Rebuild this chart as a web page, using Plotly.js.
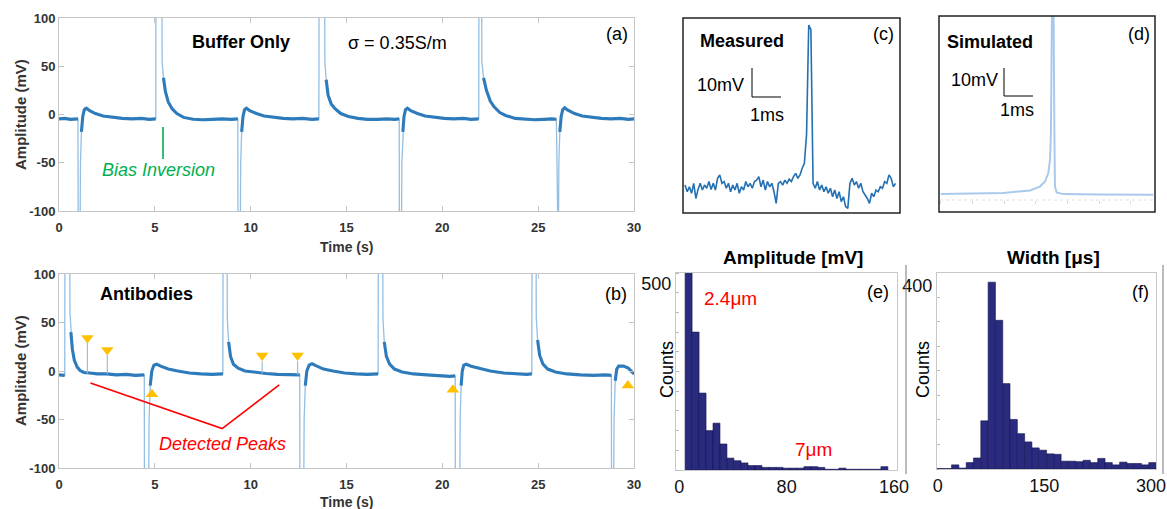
<!DOCTYPE html>
<html>
<head>
<meta charset="utf-8">
<script src="https://cdn.plot.ly/plotly-3.0.1.min.js"></script>
<style>html,body{margin:0;padding:0;background:#fff;}#chart{width:1167px;height:509px;}</style>
</head>
<body>
<div id="chart"></div>
<script>
// ---------- Data ----------
// (a) Buffer only: time (s) and amplitude (mV)
const timeA = [0,0.3,0.6,0.99,1.0,1.09,1.12,1.17,1.24,1.32,1.42,1.6,1.9,2.3,2.8,3.3,3.8,4.3,4.7,5.05,
  5.06,5.37,5.38,5.45,5.55,5.7,5.9,6.15,6.5,7.0,7.5,8.0,8.5,9.0,9.33,
  9.34,9.45,9.48,9.53,9.6,9.68,9.78,9.95,10.3,10.7,11.2,11.7,12.2,12.7,13.2,13.56,
  13.57,13.86,13.87,13.94,14.04,14.2,14.4,14.7,15.1,15.6,16.1,16.6,17.1,17.5,17.75,
  17.76,17.86,17.89,17.94,18.0,18.08,18.18,18.35,18.7,19.1,19.6,20.1,20.6,21.1,21.5,21.9,
  21.91,22.05,22.06,22.15,22.3,22.5,22.7,23.0,23.3,23.8,24.3,24.8,25.3,25.7,25.95,
  25.96,26.05,26.08,26.13,26.2,26.28,26.38,26.55,26.9,27.3,27.8,28.3,28.8,29.3,29.7,30];
const ampA = [-4.5,-4,-5,-4.5,-150,-150,-50,-18,-2,5,6.5,4,1,-1.5,-3,-4,-4.5,-4,-5,-4.5,
  150,150,55,38,24,13,6,1,-3,-5,-5.5,-5,-4.5,-5,-4.5,
  -150,-150,-50,-18,-2,5,6.5,4,1,-1.5,-3,-4,-4.5,-4,-5,-4.5,
  150,150,55,36,20,11,6,1,-2,-4,-5,-5,-4.5,-5,-4.5,
  -150,-150,-50,-18,-2,5,6.5,4,1,-1.5,-3,-4,-4.5,-4,-5,-4.5,
  150,150,55,38,25,14,8,2,-1,-4,-5,-5.5,-5,-4.5,-5,
  -150,-150,-50,-18,-2,5,7,4.5,1,-1.5,-3,-4,-4.5,-4,-5,-4.5];

// (b) Antibodies: time (s) and amplitude (mV)
const timeB = [0,0.3,0.31,0.56,0.57,0.62,0.7,0.8,0.95,1.1,1.3,1.6,2.0,2.5,3.0,3.5,4.0,4.45,
  4.46,4.67,4.70,4.76,4.84,4.95,5.1,5.3,5.7,6.2,6.8,7.4,8.0,8.55,
  8.56,8.77,8.78,8.85,8.95,9.1,9.35,9.7,10.2,10.8,11.4,12.0,12.5,12.56,
  12.57,12.76,12.79,12.85,12.93,13.05,13.2,13.4,13.8,14.3,14.9,15.5,16.1,16.65,
  16.66,16.89,16.9,16.97,17.08,17.25,17.5,17.9,18.5,19.2,19.9,20.4,20.67,
  20.68,20.9,20.93,20.98,21.04,21.12,21.25,21.5,21.9,22.5,23.2,23.9,24.4,24.67,
  24.68,24.89,24.9,24.97,25.08,25.25,25.5,25.9,26.5,27.2,27.9,28.5,28.82,
  28.83,28.93,28.96,29.02,29.1,29.2,29.45,29.7,29.9,30];
const ampB = [-4,-4.5,150,150,60,40,22,11,4,0.5,-1.5,-2,-3,-3,-4,-3.5,-4.5,-4,
  -150,-150,-50,-15,0,6,7,5,2,0,-2,-3,-3.5,-3,
  150,150,55,30,15,7,3,0,-1.5,-2.5,-3.5,-4,-4.5,-4,
  -150,-150,-50,-15,0,6,7.5,5.5,2,0,-2,-3,-3.5,-3,
  150,150,55,30,15,7,2,-1,-3,-4,-5,-5.5,-5,
  -150,-150,-50,-15,0,6,7,5,3,0,-2,-3,-3.5,-3,
  150,150,55,32,16,7,2,-1,-3,-4,-4.5,-4,-4.5,
  -150,-150,-50,-10,2,5,5,3,-1,-3];

// (b) detected small peaks
const peakTimesB = [1.48, 2.52, 10.6, 12.45];
const peakBaseB  = [-2.5, -3, -2.5, -4];
const peakTopB   = [29, 17, 10, 10];
const markDownY  = [34, 21.6, 16, 16];
const markUpT    = [4.85, 20.55, 29.68];
const markUpY    = [-24, -19.4, -15];
// callout for "Detected Peaks"
const calloutT = [1.64, 8.51, 11.49];
const calloutY = [-12.3, -59.4, -14.4];

// (c) measured single event (mV), uniformly sampled
const ampC = [1.6,-0.7,1.0,-1.2,2.2,-3.0,0.1,2.2,-0.1,1.6,
  0.5,2.8,0.1,2.2,-0.1,3.9,5.1,2.2,2.8,0.5,
  2.2,-0.7,1.6,-0.1,2.2,-1.2,1.0,-0.1,2.8,1.0,
  2.2,0.5,2.8,3.3,4.5,1.0,3.3,-0.1,2.8,1.0,
  2.2,-0.7,-4.7,2.2,2.8,1.6,3.3,2.2,3.6,2.8,
  4.5,5.6,3.9,5.1,7.4,9.1,19,56.6,55,2.2,
  0.5,2.8,-0.1,1.6,-0.7,1.0,-1.2,0.5,-2.4,-0.1,
  -3.0,-0.7,-4.1,-2.4,-5.8,-6.4,2.2,3.9,1.6,2.8,
  0.5,2.2,-0.7,-1.8,-3.0,-4.7,-1.2,-2.4,-0.1,-0.7,
  1.0,0.5,2.8,2.2,5.1,3.9,1.0,2.2];

// (d) simulated event: time (ms), amplitude (mV)
const timeD = [0.06,1.2,2.22,3.14,3.48,3.66,3.77,3.83,3.86,3.90,3.95,3.98,4.0,4.06,4.29,5.5,7.39];
const ampD  = [0.3,0.45,0.7,1.6,3.0,4.8,7.8,12.6,22.2,70,70,22,3,0.9,0.3,0.15,0.07];

// (e) amplitude histogram
const binsE = [6.9,12.1,17.3,22.5,27.7,32.9,38.1,43.4,48.6,53.8,59.0,64.2,69.4,74.7,79.9,85.1,90.3,95.5,100.7,105.9,111.2,116.4,121.6,126.8,132.0,137.2,142.4,147.7,152.9];
const countsE = [600,371,207,106,126,70,32,25,19,12,12,7,7,7,5,5,5,9,9,7,2,2,5,2,2,2,2,2,9];

// (f) width histogram
const binsF = [4.2,14.5,24.7,35.0,45.3,55.5,65.8,76.1,86.4,96.6,106.9,117.2,127.4,137.7,148.0,158.3,168.5,178.8,189.1,199.3,209.6,219.9,230.2,240.4,250.7,261.0,271.2,281.5,291.8,302.0];
const countsF = [1,1,9,2,14,24,105,407,324,186,108,77,59,46,41,33,32,17,17,16,19,14,23,14,9,15,12,12,9,14];

// tick labels
const timeTicks = [0,5,10,15,20,25,30];
const ampTicks = [-100,-50,0,50,100];
const ampTickText = ['-100','-50','0','50','100'];

// ---------- Layout helpers ----------
const W = 1167, H = 509;
const FONT = 'Liberation Sans, Arial, Helvetica, sans-serif';
const domX = (a, b) => [a / W, b / W];
const domY = (top, bottom) => [1 - bottom / H, 1 - top / H];
const px = v => v / W, py = v => 1 - v / H;

function ann(text, x, y, size, color, extra) {
  return Object.assign({text: text, x: px(x), y: py(y), xref: 'paper', yref: 'paper',
    xanchor: 'center', yanchor: 'middle', showarrow: false,
    font: {family: FONT, size: size, color: color || '#000'}}, extra || {});
}
function pline(x0, y0, x1, y1, color, width, dash) {
  return {type: 'line', xref: 'paper', yref: 'paper', x0: px(x0), y0: py(y0), x1: px(x1), y1: py(y1),
    line: {color: color, width: width, dash: dash || 'solid'}};
}
function prect(x0, y0, x1, y1, color, width) {
  return {type: 'rect', xref: 'paper', yref: 'paper', x0: px(x0), y0: py(y0), x1: px(x1), y1: py(y1),
    line: {color: color, width: width}, fillcolor: 'rgba(0,0,0,0)'};
}

const thick = arr => arr.map(v => (v > -35 && v < 45) ? v : null);

const spikeX = [], spikeY = [];
peakTimesB.forEach((t, i) => { spikeX.push(t, t, null); spikeY.push(peakBaseB[i], peakTopB[i], null); });

const THIN = '#93bfe3', THICK = '#2e7bbc';
const traces = [
  // (a)
  {x: timeA, y: ampA, xaxis: 'x', yaxis: 'y', mode: 'lines', line: {color: THIN, width: 1.3}},
  {x: timeA, y: thick(ampA), xaxis: 'x', yaxis: 'y', mode: 'lines', line: {color: THICK, width: 3.1}, connectgaps: false},
  // (b)
  {x: timeB, y: ampB, xaxis: 'x2', yaxis: 'y2', mode: 'lines', line: {color: THIN, width: 1.3}},
  {x: timeB, y: thick(ampB), xaxis: 'x2', yaxis: 'y2', mode: 'lines', line: {color: THICK, width: 3.1}, connectgaps: false},
  {x: spikeX, y: spikeY, xaxis: 'x2', yaxis: 'y2', mode: 'lines', line: {color: '#9ab8d2', width: 1.1}},
  {x: calloutT, y: calloutY, xaxis: 'x2', yaxis: 'y2', mode: 'lines', line: {color: '#ff0000', width: 1.6}},
  {x: peakTimesB, y: markDownY, xaxis: 'x2', yaxis: 'y2', mode: 'markers', cliponaxis: false,
    marker: {symbol: 'triangle-down', size: 11, color: '#ffc000'}},
  {x: markUpT, y: markUpY, xaxis: 'x2', yaxis: 'y2', mode: 'markers', cliponaxis: false,
    marker: {symbol: 'triangle-up', size: 11, color: '#ffc000'}},
  // (c)
  {y: ampC, x0: 0.07, dx: 0.075, xaxis: 'x3', yaxis: 'y3', mode: 'lines', line: {color: '#2370b2', width: 1.6}},
  // (d)
  {x: timeD, y: ampD, xaxis: 'x4', yaxis: 'y4', mode: 'lines', line: {color: '#a9c9ec', width: 2}},
  // (e)
  {type: 'bar', x: binsE, y: countsE, width: 5.2, xaxis: 'x5', yaxis: 'y5',
    marker: {color: '#2a2a7e', line: {color: '#161650', width: 0.6}}},
  // (f)
  {type: 'bar', x: binsF, y: countsF, width: 10.27, xaxis: 'x6', yaxis: 'y6',
    marker: {color: '#2a2a7e', line: {color: '#161650', width: 0.6}}}
];

const GRAY = '#c4c4c4';
const tsAxisX = (dom, anchor) => ({domain: dom, anchor: anchor, range: [0, 30], tickvals: timeTicks,
  ticks: 'inside', ticklen: 5, tickcolor: GRAY, showline: true, linecolor: GRAY, linewidth: 1,
  mirror: 'ticks', showgrid: false, zeroline: false, ticklabelstandoff: 4,
  tickfont: {family: FONT, size: 13, color: '#333', weight: 'bold'}});
const tsAxisY = (dom, anchor) => ({domain: dom, anchor: anchor, range: [-100, 100], tickvals: ampTicks,
  ticktext: ampTickText, ticks: 'inside', ticklen: 5, tickcolor: GRAY, showline: true, linecolor: GRAY,
  linewidth: 1, mirror: 'ticks', showgrid: false, zeroline: false,
  tickfont: {family: FONT, size: 13, color: '#333', weight: 'bold'}});
const hidden = (dom, anchor, range) => ({domain: dom, anchor: anchor, range: range, visible: false, fixedrange: true});
const HG = '#c8c8c8';

const layout = {
  width: W, height: H, margin: {l: 0, r: 0, t: 0, b: 0}, showlegend: false,
  paper_bgcolor: '#fff', plot_bgcolor: 'rgba(0,0,0,0)', bargap: 0,
  xaxis: tsAxisX(domX(59, 634), 'y'),
  yaxis: tsAxisY(domY(18, 211), 'x'),
  xaxis2: tsAxisX(domX(59, 634), 'y2'),
  yaxis2: tsAxisY(domY(274, 468), 'x2'),
  xaxis3: hidden(domX(683, 900), 'y3', [0, 7.5]),
  yaxis3: hidden(domY(18, 213), 'x3', [-8, 59]),
  xaxis4: {domain: domX(939, 1155), anchor: 'y4', range: [0, 7.45], showgrid: false, zeroline: false,
    showline: false, ticks: 'outside', ticklen: 3, tickcolor: '#d6d6d6', showticklabels: false,
    tick0: 0.06, dtick: 1.093},
  yaxis4: hidden(domY(16, 200), 'x4', [-1.8, 63.9]),
  xaxis5: {domain: domX(676, 897), anchor: 'y5', range: [-2.5, 162.3], tickvals: [0, 80, 160],
    ticks: '', showline: true, linecolor: HG, mirror: true, showgrid: false, zeroline: false,
    tickfont: {family: FONT, size: 18, color: '#111'}},
  yaxis5: {domain: domY(273, 470), anchor: 'x5', range: [0, 530], tickvals: [500], ticks: '',
    showline: true, linecolor: HG, mirror: true, showgrid: false, zeroline: false,
    minor: {dtick: 53, tick0: 0, ticks: 'inside', ticklen: 3, tickcolor: '#b8b8b8'},
    tickfont: {family: FONT, size: 18, color: '#111'}},
  xaxis6: {domain: domX(937, 1156), anchor: 'y6', range: [-0.9, 307], tickvals: [0, 150, 300],
    ticks: '', showline: true, linecolor: HG, mirror: true, showgrid: false, zeroline: false,
    tickfont: {family: FONT, size: 18, color: '#111'}},
  yaxis6: {domain: domY(273, 469), anchor: 'x6', range: [0, 427], tickvals: [400], ticks: '',
    showline: true, linecolor: HG, mirror: true, showgrid: false, zeroline: false,
    minor: {dtick: 53.4, tick0: 0, ticks: 'inside', ticklen: 3, tickcolor: '#b8b8b8'},
    tickfont: {family: FONT, size: 18, color: '#111'}},
  shapes: [
    prect(683, 18, 900, 213, '#222', 1.5),
    prect(939, 16, 1155, 212, '#222', 1.5),
    pline(940, 200, 1154, 200, '#e0e0e0', 1, 'dot'),
    pline(752, 68, 752, 97, '#000', 1), pline(752, 97, 781, 97, '#000', 1),
    pline(1004, 68, 1004, 96, '#000', 1), pline(1004, 96, 1033, 96, '#000', 1),
    pline(163, 127, 163, 159, '#00b050', 1.6),
    pline(906, 265, 906, 474, '#777', 1),
    pline(1163, 265, 1163, 474, '#777', 1)
  ],
  annotations: [
    ann('<b>Buffer Only</b>', 241, 42, 18),
    ann('σ = 0.35S/m', 397, 43, 18),
    ann('(a)', 617, 34, 18),
    ann('<i>Bias Inversion</i>', 159, 170, 18, '#00b050'),
    ann('<b>Amplitude (mV)</b>', 20, 115, 15, '#333', {textangle: -90}),
    ann('<b>Time (s)</b>', 346, 247, 14, '#333'),
    ann('<b>Antibodies</b>', 146, 294, 18),
    ann('(b)', 616, 294, 18),
    ann('<b>Amplitude (mV)</b>', 20, 371, 15, '#333', {textangle: -90}),
    ann('<b>Time (s)</b>', 346, 502, 14, '#333'),
    ann('<i>Detected Peaks</i>', 222, 444, 18, '#ff0000'),
    ann('<b>Measured</b>', 742, 41, 18),
    ann('(c)', 883, 34, 18),
    ann('10mV', 720, 85, 18),
    ann('1ms', 767, 115, 18),
    ann('<b>Simulated</b>', 990, 42, 18),
    ann('(d)', 1139, 34, 18),
    ann('10mV', 974, 80, 18),
    ann('1ms', 1017, 110, 18),
    ann('<b>Amplitude [mV]</b>', 793, 257, 19),
    ann('<b>Width [μs]</b>', 1053, 257, 19),
    ann('Counts', 667, 370, 18, '#000', {textangle: -90}),
    ann('Counts', 923, 370, 18, '#000', {textangle: -90}),
    ann('2.4μm', 730, 298, 19, '#ff0000'),
    ann('7μm', 813, 449, 19, '#ff0000'),
    ann('(e)', 878, 292, 18),
    ann('(f)', 1140, 292, 18)
  ]
};

Plotly.newPlot('chart', traces, layout, {displayModeBar: false, staticPlot: true});
</script>
</body>
</html>
